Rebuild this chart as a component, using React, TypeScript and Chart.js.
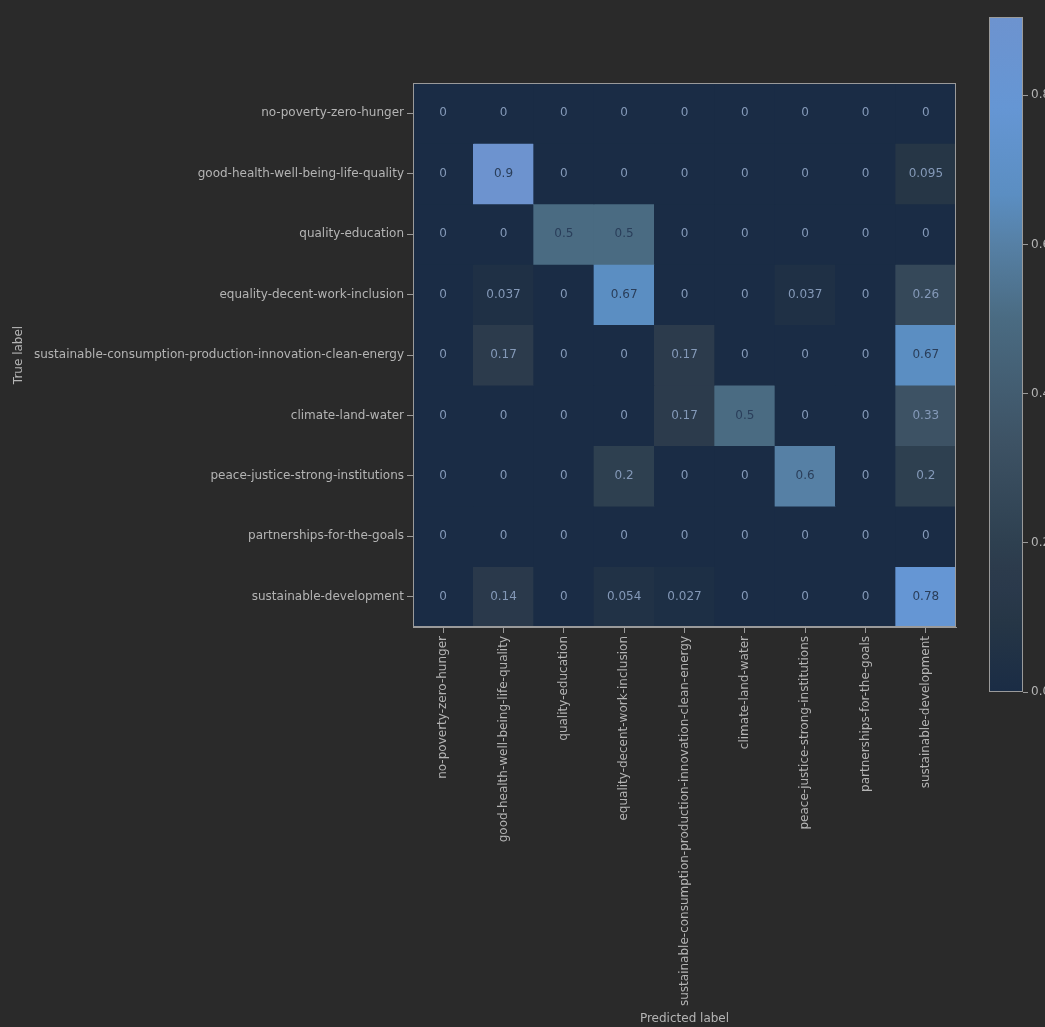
import React, { useEffect, useRef } from 'react';
import { Chart, registerables } from 'chart.js';

Chart.register(...registerables);

// ---- data ----
const trueLabels = [
  'no-poverty-zero-hunger',
  'good-health-well-being-life-quality',
  'quality-education',
  'equality-decent-work-inclusion',
  'sustainable-consumption-production-innovation-clean-energy',
  'climate-land-water',
  'peace-justice-strong-institutions',
  'partnerships-for-the-goals',
  'sustainable-development',
];
const predictedLabels = [...trueLabels];

const rowNoPoverty = [0, 0, 0, 0, 0, 0, 0, 0, 0];
const rowGoodHealth = [0, 0.9048, 0, 0, 0, 0, 0, 0, 0.0952];
const rowEducation = [0, 0, 0.5, 0.5, 0, 0, 0, 0, 0];
const rowEquality = [0, 0.037, 0, 0.667, 0, 0, 0.037, 0, 0.259];
const rowConsumption = [0, 0.167, 0, 0, 0.167, 0, 0, 0, 0.667];
const rowClimate = [0, 0, 0, 0, 0.167, 0.5, 0, 0, 0.333];
const rowPeace = [0, 0, 0, 0.2, 0, 0, 0.6, 0, 0.2];
const rowPartnerships = [0, 0, 0, 0, 0, 0, 0, 0, 0];
const rowSustainable = [0, 0.1351, 0, 0.054, 0.027, 0, 0, 0, 0.784];

const matrix = [
  rowNoPoverty,
  rowGoodHealth,
  rowEducation,
  rowEquality,
  rowConsumption,
  rowClimate,
  rowPeace,
  rowPartnerships,
  rowSustainable,
];

const colorbarTicks = [0, 0.2, 0.4, 0.6, 0.8];

// ---- styles ----
const BG = '#2a2a2a';
const TEXT = '#b4b4b4';
const SPINE = '#9a9a9a';
const FONT = 'DejaVu Sans';
const cmapStops: [number, string][] = [
  [0, '#1a2c45'],
  [0.105, '#263646'],
  [0.15, '#2a394b'],
  [0.184, '#2c3b4c'],
  [0.221, '#2e4050'],
  [0.368, '#3d5264'],
  [0.553, '#4a6b82'],
  [0.663, '#5680a5'],
  [0.737, '#5b8ec2'],
  [0.866, '#6596d4'],
  [1, '#6d93cf'],
];
const TEXT_ON_DARK = '#8499b8';
const TEXT_ON_LIGHT = '#2a3e5a';

const vmax = Math.max(...matrix.flat());
const vmin = 0;
const threshold = (vmax + vmin) / 2;

function hexToRgb(h: string) {
  const n = parseInt(h.slice(1), 16);
  return [(n >> 16) & 255, (n >> 8) & 255, n & 255];
}
function cmap(v: number) {
  const t = Math.min(1, Math.max(0, (v - vmin) / (vmax - vmin)));
  for (let k = 1; k < cmapStops.length; k++) {
    const [t1, c1] = cmapStops[k];
    const [t0, c0] = cmapStops[k - 1];
    if (t <= t1) {
      const f = (t - t0) / (t1 - t0 || 1);
      const a = hexToRgb(c0);
      const b = hexToRgb(c1);
      const r = a.map((x, i) => Math.round(x + (b[i] - x) * f));
      return `rgb(${r[0]},${r[1]},${r[2]})`;
    }
  }
  return cmapStops[cmapStops.length - 1][1];
}
function fmt(v: number) {
  if (v === 0) return '0';
  return String(Number(v.toPrecision(2)));
}

const cellTextPlugin = {
  id: 'cellText',
  afterDatasetsDraw(chart: any) {
    const ctx = chart.ctx;
    ctx.save();
    ctx.font = `12px "${FONT}"`;
    ctx.textAlign = 'center';
    ctx.textBaseline = 'middle';
    chart.data.datasets.forEach((_ds: any, i: number) => {
      const meta = chart.getDatasetMeta(i);
      meta.data.forEach((bar: any, j: number) => {
        const v = matrix[i][j];
        const p = bar.getProps(['x', 'y', 'base'], true);
        ctx.fillStyle = v > threshold ? TEXT_ON_LIGHT : TEXT_ON_DARK;
        ctx.fillText(fmt(v), p.x, (p.y + p.base) / 2);
      });
    });
    ctx.restore();
  },
};

const frameAndBgPlugin = {
  id: 'frameAndBg',
  beforeDatasetsDraw(chart: any) {
    const { ctx, chartArea: a } = chart;
    ctx.save();
    ctx.fillStyle = cmap(0);
    ctx.fillRect(a.left, a.top, a.right - a.left, a.bottom - a.top);
    ctx.restore();
  },
  afterDraw(chart: any) {
    const { ctx, chartArea: a } = chart;
    ctx.save();
    ctx.strokeStyle = SPINE;
    ctx.lineWidth = 1;
    ctx.strokeRect(Math.round(a.left) + 0.5, Math.round(a.top) + 0.5, Math.round(a.right - a.left) - 1, Math.round(a.bottom - a.top) - 1);
    ctx.restore();
  },
};

function makeGradient(chart: any) {
  const a = chart.chartArea;
  if (!a) return cmap(0);
  const g = chart.ctx.createLinearGradient(0, a.bottom, 0, a.top);
  cmapStops.forEach(([t, c]) => g.addColorStop(t, c));
  return g;
}

export default function App() {
  const mainRef = useRef<HTMLCanvasElement>(null);
  const cbRef = useRef<HTMLCanvasElement>(null);

  useEffect(() => {
    Chart.defaults.font.family = FONT;
    const main = new Chart(mainRef.current as HTMLCanvasElement, {
      type: 'bar',
      data: {
        labels: predictedLabels,
        datasets: matrix.map((row, i) => ({
          label: trueLabels[i],
          data: row.map(() => 1),
          backgroundColor: row.map((v) => cmap(v)),
          borderWidth: 0,
          barPercentage: 1,
          categoryPercentage: 1,
          stack: 'cm',
        })),
      },
      options: {
        responsive: false,
        animation: false,
        layout: { padding: { top: 83, right: 29, left: 8, bottom: 0 } },
        plugins: { legend: { display: false }, tooltip: { enabled: false } },
        scales: {
          x: {
            type: 'category',
            stacked: true,
            offset: true,
            grid: { offset: false, drawOnChartArea: false, tickLength: 6, tickColor: SPINE },
            border: { display: true, color: SPINE },
            ticks: { minRotation: 90, maxRotation: 90, autoSkip: false, color: TEXT, font: { size: 12, family: FONT }, padding: 3 },
            afterFit: (axis: any) => {
              axis.height = 400;
            },
            title: { display: true, text: 'Predicted label', color: TEXT, font: { size: 12, family: FONT }, padding: { top: 2, bottom: 1 } },
          },
          y: {
            type: 'linear',
            stacked: true,
            min: 0,
            max: trueLabels.length,
            reverse: true,
            afterBuildTicks: (axis: any) => {
              axis.ticks = trueLabels.map((_l, i) => ({ value: i + 0.5 }));
            },
            afterFit: (axis: any) => {
              axis.width = 405;
            },
            grid: { drawOnChartArea: false, tickLength: 6, tickColor: SPINE },
            border: { display: true, color: SPINE },
            ticks: {
              autoSkip: false,
              color: TEXT,
              font: { size: 12, family: FONT },
              padding: 3,
              callback: (_v: any, idx: number) => trueLabels[idx],
            },
            title: { display: true, text: 'True label', color: TEXT, font: { size: 12, family: FONT }, padding: { top: 4, bottom: 4 } },
          },
        },
      },
      plugins: [frameAndBgPlugin, cellTextPlugin],
    } as any);

    const cb = new Chart(cbRef.current as HTMLCanvasElement, {
      type: 'bar',
      data: {
        labels: [''],
        datasets: [
          {
            data: [vmax],
            backgroundColor: (c: any) => makeGradient(c.chart),
            borderWidth: 0,
            barPercentage: 1,
            categoryPercentage: 1,
          },
        ],
      },
      options: {
        responsive: false,
        animation: false,
        layout: { padding: { top: 17, bottom: 335, left: 4, right: 0 } },
        plugins: { legend: { display: false }, tooltip: { enabled: false } },
        scales: {
          x: { display: false },
          y: {
            position: 'right',
            min: 0,
            max: vmax,
            afterBuildTicks: (axis: any) => {
              axis.ticks = colorbarTicks.map((v) => ({ value: v }));
            },
            afterFit: (axis: any) => {
              axis.width = 22;
            },
            grid: { drawOnChartArea: false, tickLength: 5, tickColor: SPINE },
            border: { display: false },
            ticks: { color: TEXT, font: { size: 12, family: FONT }, padding: 3, callback: (v: any) => Number(v).toFixed(1) },
          },
        },
      },
      plugins: [
        {
          id: 'cbFrame',
          afterDraw(chart: any) {
            const { ctx, chartArea: a } = chart;
            ctx.save();
            ctx.strokeStyle = SPINE;
            ctx.lineWidth = 1;
            ctx.strokeRect(Math.round(a.left) + 0.5, Math.round(a.top) + 0.5, Math.round(a.right - a.left) - 1, Math.round(a.bottom - a.top) - 1);
            ctx.restore();
          },
        },
      ],
    } as any);

    return () => {
      main.destroy();
      cb.destroy();
    };
  }, []);

  return (
    <div style={{ position: 'fixed', left: 0, top: 0, width: 1045, height: 1027, overflow: 'hidden', background: BG }}>
      <canvas ref={mainRef} width={985} height={1027} style={{ position: 'absolute', left: 0, top: 0, width: 985, height: 1027 }} />
      <canvas ref={cbRef} width={60} height={1027} style={{ position: 'absolute', left: 985, top: 0, width: 60, height: 1027 }} />
    </div>
  );
}
